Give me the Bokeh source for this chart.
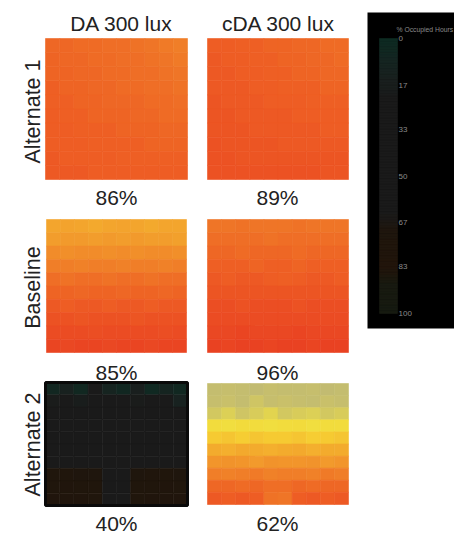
import numpy as np
from bokeh.plotting import figure
from bokeh.models import ColumnDataSource, Range1d, LinearColorMapper
from bokeh.transform import transform
from bokeh.core.properties import value
from bokeh.embed import file_html
from bokeh.resources import INLINE

# ---------------- data ----------------
column_labels = ["DA 300 lux", "cDA 300 lux"]
row_labels = ["Alternate 1", "Baseline", "Alternate 2"]
percent_labels = [["86%", "89%"], ["85%", "96%"], ["40%", "62%"]]
cbar_title = "% Occupied Hours"
cbar_ticks = [0, 17, 33, 50, 67, 83, 100]

# % occupied hours per sensor cell (row 0 = top of the floor plate)
alt1_da = [
    [88, 88, 87, 87, 86, 86, 85, 84, 83, 82],
    [89, 88, 88, 87, 87, 86, 86, 85, 84, 83],
    [89, 89, 88, 88, 87, 87, 86, 86, 85, 84],
    [90, 89, 89, 88, 88, 87, 87, 86, 86, 85],
    [90, 90, 89, 89, 88, 88, 88, 87, 87, 86],
    [91, 90, 90, 89, 89, 89, 88, 88, 87, 87],
    [91, 91, 90, 90, 90, 89, 89, 89, 88, 88],
    [91, 91, 91, 90, 90, 90, 90, 89, 89, 89],
    [92, 91, 91, 91, 91, 90, 90, 90, 90, 90],
    [92, 92, 92, 91, 91, 91, 91, 91, 91, 91],
]
alt1_cda = [
    [91, 91, 90, 90, 89, 89, 88, 88, 87, 87],
    [92, 91, 91, 90, 90, 89, 89, 88, 88, 87],
    [92, 92, 91, 91, 90, 90, 89, 89, 88, 88],
    [92, 92, 92, 91, 91, 90, 90, 90, 89, 89],
    [93, 92, 92, 92, 91, 91, 91, 90, 90, 90],
    [93, 93, 92, 92, 92, 92, 91, 91, 91, 91],
    [93, 93, 93, 92, 92, 92, 92, 92, 91, 91],
    [94, 93, 93, 93, 93, 92, 92, 92, 92, 92],
    [94, 94, 93, 93, 93, 93, 93, 93, 93, 93],
    [94, 94, 94, 94, 94, 94, 94, 94, 93, 93],
]
base_da = [
    [70, 71, 70, 69, 70, 71, 70, 69, 70, 70],
    [73, 74, 74, 73, 74, 73, 74, 73, 73, 72],
    [78, 77, 78, 78, 77, 78, 77, 78, 78, 77],
    [82, 82, 81, 82, 82, 81, 82, 82, 81, 82],
    [86, 85, 86, 86, 85, 86, 86, 85, 86, 86],
    [89, 89, 88, 89, 89, 88, 89, 89, 88, 89],
    [92, 91, 92, 92, 91, 92, 92, 91, 92, 92],
    [94, 94, 93, 94, 94, 94, 93, 94, 94, 94],
    [96, 96, 96, 95, 96, 96, 96, 96, 95, 96],
    [98, 97, 98, 98, 97, 98, 98, 97, 98, 98],
]
base_cda = [
    [84, 84, 85, 84, 84, 84, 85, 84, 84, 84],
    [86, 86, 86, 86, 85, 86, 86, 86, 86, 86],
    [88, 88, 87, 88, 88, 88, 87, 88, 88, 88],
    [90, 90, 90, 89, 90, 90, 89, 90, 90, 90],
    [92, 91, 92, 92, 91, 90, 91, 92, 92, 91],
    [93, 93, 93, 93, 93, 93, 93, 93, 93, 93],
    [95, 95, 94, 95, 95, 95, 94, 95, 95, 95],
    [96, 96, 96, 96, 96, 96, 96, 96, 96, 96],
    [97, 97, 98, 97, 97, 97, 98, 97, 97, 97],
    [99, 98, 99, 99, 98, 99, 99, 98, 99, 99],
]
alt2_da = [
    [6, 14, 4, 22, 10, 5, 16, 3, 9, 4],
    [20, 26, 18, 24, 28, 22, 20, 25, 23, 12],
    [32, 36, 34, 33, 38, 36, 34, 35, 37, 34],
    [36, 38, 35, 37, 39, 38, 36, 37, 38, 36],
    [40, 42, 39, 41, 43, 41, 40, 42, 41, 40],
    [44, 45, 43, 46, 45, 44, 46, 45, 44, 45],
    [48, 50, 49, 51, 48, 47, 50, 49, 51, 48],
    [74, 75, 73, 72, 50, 52, 72, 74, 75, 73],
    [76, 77, 76, 75, 52, 54, 75, 76, 77, 76],
    [78, 78, 77, 76, 54, 53, 76, 78, 78, 77],
]
alt2_cda = [
    [40, 41, 40, 39, 41, 40, 40, 41, 39, 40],
    [41, 42, 40, 43, 41, 42, 41, 40, 42, 41],
    [44, 46, 43, 45, 47, 44, 45, 46, 44, 45],
    [52, 51, 53, 52, 51, 52, 53, 51, 52, 52],
    [60, 61, 59, 61, 60, 60, 61, 59, 60, 61],
    [68, 67, 69, 68, 67, 68, 69, 67, 68, 68],
    [75, 76, 75, 74, 76, 75, 75, 76, 74, 75],
    [82, 81, 82, 83, 81, 82, 82, 81, 83, 82],
    [88, 88, 87, 88, 86, 86, 88, 87, 88, 88],
    [92, 91, 92, 91, 85, 84, 91, 92, 91, 92],
]

# ---------------- styling ----------------
def make_palette(anchors, n=256):
    pos = np.array([a[0] for a in anchors], dtype=float)
    cols = np.array([[int(a[1][i:i + 2], 16) for i in (1, 3, 5)] for a in anchors], dtype=float)
    out = []
    for t in np.linspace(0, 100, n):
        rgb = [np.interp(t, pos, cols[:, k]) for k in range(3)]
        out.append("#%02x%02x%02x" % tuple(int(round(c)) for c in rgb))
    return out

bright_anchors = [(0, "#a8a888"), (35, "#b9b57a"), (42, "#c9c06a"), (50, "#f0e040"),
                  (58, "#f6d234"), (66, "#f4b22e"), (74, "#f29a2c"), (82, "#f07e28"),
                  (90, "#ee6024"), (96, "#eb4c23"), (100, "#e93f22")]
dark_anchors = [(0, "#0d2b22"), (12, "#182220"), (22, "#1a1a1a"), (64, "#1a1a1a"),
                (70, "#1f160d"), (84, "#21150b"), (90, "#181a10"), (100, "#161a10")]
bright = LinearColorMapper(palette=make_palette(bright_anchors), low=0, high=100)
dark = LinearColorMapper(palette=make_palette(dark_anchors), low=0, high=100)

FONT = value("Liberation Sans")
TXT = "#222222"

W, H = 454, 539
p = figure(width=W, height=H, x_range=Range1d(0, W), y_range=Range1d(H, 0),
           output_backend="svg", toolbar_location=None, min_border=0,
           x_axis_location=None, y_axis_location=None)
p.grid.visible = False
p.outline_line_color = None
p.background_fill_color = "white"
p.border_fill_color = "white"

# panel boxes (x0, y0, x1, y1) in picture pixels
panels = [
    (alt1_da, bright, (45, 38, 187, 179)),
    (alt1_cda, bright, (207, 38, 348, 179)),
    (base_da, bright, (46, 219, 186, 352)),
    (base_cda, bright, (207, 219, 348, 352)),
    (alt2_da, dark, (45, 382, 187, 505)),
    (alt2_cda, bright, (207, 383, 348, 504)),
]

for grid, mapper, (x0, y0, x1, y1) in panels:
    g = np.array(grid, dtype=float)
    nr, nc = g.shape
    cw = (x1 - x0) / nc
    ch = (y1 - y0) / nr
    rr, cc = np.meshgrid(np.arange(nr), np.arange(nc), indexing="ij")
    src = ColumnDataSource(dict(
        x=(x0 + (cc.ravel() + 0.5) * cw), y=(y0 + (rr.ravel() + 0.5) * ch),
        v=g.ravel()))
    p.rect("x", "y", width=cw, height=ch, source=src,
           fill_color=transform("v", mapper), line_color=transform("v", mapper),
           line_width=0.6)
    if mapper is dark:
        p.quad(left=x0, right=x1, top=y0, bottom=y1, fill_color=None,
               line_color="#0a0a0a", line_width=3)

# column headers
p.text(x=[121, 278], y=[23, 23], text=column_labels, text_font=FONT,
       text_font_size="21px", text_color=TXT, text_align="center",
       text_baseline="alphabetic")

# row labels (rotated)
p.text(x=[32, 32, 32], y=[111, 287, 444], text=row_labels, angle=np.pi / 2,
       text_font=FONT, text_font_size="21.5px", text_color=TXT,
       text_align="center", text_baseline="alphabetic")

# percentages
px, py, pt = [], [], []
for r, y_base in enumerate([197, 372, 523]):
    for c, xc in enumerate([116, 277]):
        px.append(xc); py.append(y_base); pt.append(percent_labels[r][c])
p.text(x=px, y=py, text=pt, text_font=FONT, text_font_size="21px",
       text_color=TXT, text_align="center", text_baseline="alphabetic")

# colour bar (dark scale)
cb_x0, cb_x1, cb_y0, cb_y1 = 379, 397, 38, 313
p.quad(left=367, right=470, top=12, bottom=328, fill_color="black", line_color=None)
steps = np.arange(0, 100)
span = (cb_y1 - cb_y0) / 100.0
cb_src = ColumnDataSource(dict(top=cb_y0 + steps * span, bottom=cb_y0 + (steps + 1) * span,
                               v=steps + 0.5))
p.quad(left=cb_x0, right=cb_x1, top="top", bottom="bottom", source=cb_src,
       fill_color=transform("v", dark), line_color=transform("v", dark), line_width=0.6)
p.text(x=[cb_x1 + 1] * len(cbar_ticks),
       y=[cb_y0 + t / 100.0 * (cb_y1 - cb_y0) for t in cbar_ticks],
       text=[str(t) for t in cbar_ticks], text_font=value("Liberation Sans"),
       text_font_size="8px", text_color="#8a8a8a", text_align="left",
       text_baseline="middle")
p.text(x=[396], y=[29], text=[cbar_title], text_font=value("Liberation Sans"),
       text_font_size="6.8px", text_color="#8a8a8a", text_align="left",
       text_baseline="alphabetic")

open("out.html", "w").write(file_html(p, INLINE))
